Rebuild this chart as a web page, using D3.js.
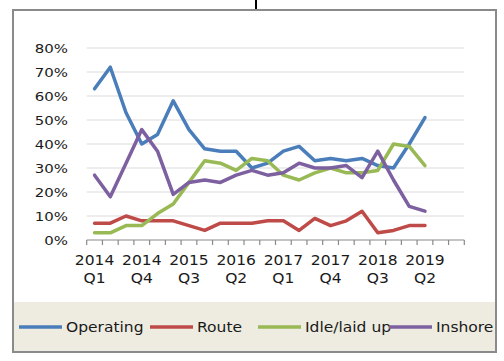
<!DOCTYPE html>
<html>
<head>
<meta charset="utf-8">
<script src="https://cdn.jsdelivr.net/npm/d3@7"></script>
<style>
  body { margin: 0; background: #fff; }
  svg text { font-family: "DejaVu Sans", sans-serif; fill: #1a1a1a; }
</style>
</head>
<body>
<svg id="chart" width="504" height="361"></svg>
<script>
// quarters 2014 Q1 .. 2019 Q4 (data stops at 2019 Q2)
const quarters = [];
for (let yr = 2014; yr <= 2019; yr++) for (let q = 1; q <= 4; q++) quarters.push(yr + " Q" + q);

const operating = [63, 72, 53, 40, 44, 58, 46, 38, 37, 37, 30, 32, 37, 39, 33, 34, 33, 34, 31, 30, 40, 51];
const route = [7, 7, 10, 8, 8, 8, 6, 4, 7, 7, 7, 8, 8, 4, 9, 6, 8, 12, 3, 4, 6, 6];
const idle = [3, 3, 6, 6, 11, 15, 24, 33, 32, 29, 34, 33, 27, 25, 28, 30, 28, 28, 29, 40, 39, 31];
const inshore = [27, 18, 32, 46, 37, 19, 24, 25, 24, 27, 29, 27, 28, 32, 30, 30, 31, 26, 37, 25, 14, 12];

const seriesNames = ["Operating", "Route", "Idle/laid up", "Inshore"];
const seriesColors = ["#4a7ebb", "#be4b48", "#98b954", "#7d60a0"];
const yTicks = [0, 10, 20, 30, 40, 50, 60, 70, 80];

const svg = d3.select("#chart");
const sx = 1.15; // text looks horizontally stretched in the original

// outer frame
svg.append("rect").attr("x", 13).attr("y", 10).attr("width", 483).attr("height", 342)
  .attr("fill", "#fff").attr("stroke", "#8a8a8a").attr("stroke-width", 2);
// legend band
svg.append("rect").attr("x", 14).attr("y", 302).attr("width", 481).attr("height", 49)
  .attr("fill", "#eeece1");
// little black mark at the top
svg.append("line").attr("x1", 256).attr("x2", 256).attr("y1", 0).attr("y2", 9)
  .attr("stroke", "#000").attr("stroke-width", 2);

const x = d3.scaleBand().domain(quarters).range([86.7, 464.3]);
const y = d3.scaleLinear().domain([0, 80]).range([240, 48]);

// gridlines
svg.append("g").selectAll("line").data(yTicks.filter(d => d > 0)).join("line")
  .attr("x1", 86.7).attr("x2", 464.3)
  .attr("y1", d => y(d)).attr("y2", d => y(d))
  .attr("stroke", "#dcdcdc").attr("stroke-width", 1.2);

// y labels
svg.append("g").selectAll("text").data(yTicks).join("text")
  .attr("transform", d => `translate(68,${y(d) + 4.5}) scale(${sx},1)`)
  .attr("text-anchor", "end").attr("font-size", 13)
  .text(d => d + "%");

// x axis line + ticks at category boundaries
const xg = svg.append("g").attr("stroke", "#8a8a8a").attr("stroke-width", 1.2);
xg.append("line").attr("x1", 86.7).attr("x2", 464.3).attr("y1", y(0)).attr("y2", y(0));
const bounds = quarters.map(q => x(q)).concat([x.range()[1]]);
xg.selectAll(".tk").data(bounds).join("line").attr("class", "tk")
  .attr("x1", d => d).attr("x2", d => d).attr("y1", y(0)).attr("y2", y(0) + 5);

// x labels every third quarter
const labelled = quarters.filter((q, i) => i % 3 === 0 && i < 22);
const xl = svg.append("g").selectAll("g").data(labelled).join("g");
xl.append("text")
  .attr("transform", d => `translate(${x(d) + x.bandwidth() / 2},264.5) scale(${sx},1)`)
  .attr("text-anchor", "middle").attr("font-size", 13.5)
  .text(d => d.split(" ")[0]);
xl.append("text")
  .attr("transform", d => `translate(${x(d) + x.bandwidth() / 2},282.5) scale(${sx},1)`)
  .attr("text-anchor", "middle").attr("font-size", 13.5)
  .text(d => d.split(" ")[1]);

// lines
const line = d3.line()
  .x((d, i) => x(quarters[i]) + x.bandwidth() / 2)
  .y(d => y(d));
[operating, route, idle, inshore].forEach((s, k) => {
  svg.append("path").datum(s)
    .attr("d", line)
    .attr("fill", "none")
    .attr("stroke", seriesColors[k])
    .attr("stroke-width", 3.5)
    .attr("stroke-linejoin", "round")
    .attr("stroke-linecap", "round");
});

// legend
const legendX = [19, 150, 258, 389];
const lg = svg.append("g").selectAll("g").data(seriesNames).join("g")
  .attr("transform", (d, i) => `translate(${legendX[i]},327)`);
lg.append("line").attr("x1", 0).attr("x2", 43).attr("y1", 0).attr("y2", 0)
  .attr("stroke", (d, i) => seriesColors[i]).attr("stroke-width", 3.5);
lg.append("text")
  .attr("transform", `translate(47,5) scale(${sx},1)`)
  .attr("font-size", 13.5)
  .text(d => d);
</script>
</body>
</html>
